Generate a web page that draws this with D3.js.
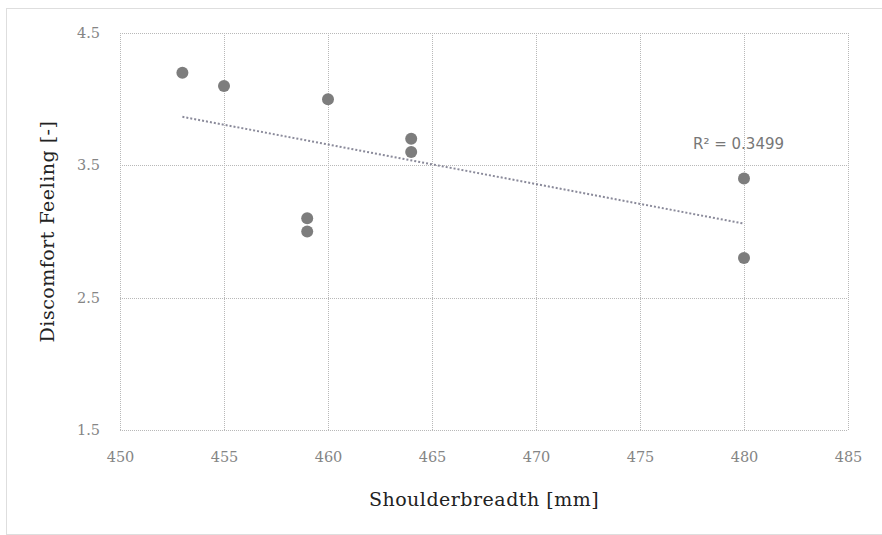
<!DOCTYPE html>
<html>
<head>
<meta charset="utf-8">
<script src="https://cdn.jsdelivr.net/npm/d3@7"></script>
<style>
  body { margin: 0; background: #fff; }
  .grid line { stroke: #b8b8b8; stroke-width: 1; stroke-dasharray: 1,1; }
  .tick text { font-family: "DejaVu Serif", serif; font-size: 14.5px; fill: #858585; }
  .axis-title { font-family: "DejaVu Serif", serif; font-size: 19px; letter-spacing: 0.5px; fill: #222; }
</style>
</head>
<body>
<div id="chart"></div>
<script>
const shoulder = [453, 455, 460, 464, 464, 459, 459, 480, 480];
const discomfort = [4.2, 4.1, 4.0, 3.7, 3.6, 3.1, 3.0, 3.4, 2.8];
const xTicks = [450, 455, 460, 465, 470, 475, 480, 485];
const yTicks = [1.5, 2.5, 3.5, 4.5];
const r2Label = "R² = 0.3499";

const W = 882, H = 535;
const margin = { top: 33, right: 34, bottom: 105, left: 120 };
const width = W - margin.left - margin.right;
const height = H - margin.top - margin.bottom;

const root = d3.select("#chart").append("svg")
  .attr("width", W).attr("height", H);

// outer frame
root.append("rect")
  .attr("x", 6.5).attr("y", 8.5)
  .attr("width", W).attr("height", H - 9)
  .attr("fill", "none")
  .attr("stroke", "#bdbdbd")
  .attr("stroke-dasharray", "1,1");

const svg = root.append("g")
  .attr("transform", `translate(${margin.left},${margin.top})`);

const x = d3.scaleLinear().domain([450, 485]).range([0, width]);
const y = d3.scaleLinear().domain([1.5, 4.5]).range([height, 0]);

// grid
const grid = svg.append("g").attr("class", "grid");
grid.selectAll(".vx").data(xTicks).enter().append("line")
  .attr("x1", d => Math.round(x(d)) + 0.5).attr("x2", d => Math.round(x(d)) + 0.5)
  .attr("y1", 0).attr("y2", height);
grid.selectAll(".hy").data(yTicks).enter().append("line")
  .attr("y1", d => Math.round(y(d)) + 0.5).attr("y2", d => Math.round(y(d)) + 0.5)
  .attr("x1", 0).attr("x2", width);

// axes (labels only)
const xAxis = svg.append("g")
  .attr("transform", `translate(0,${height})`)
  .call(d3.axisBottom(x).tickValues(xTicks).tickSize(0).tickPadding(22).tickFormat(d3.format("d")));
xAxis.select(".domain").remove();

const yAxis = svg.append("g")
  .call(d3.axisLeft(y).tickValues(yTicks).tickSize(0).tickPadding(20).tickFormat(d3.format(".1f")));
yAxis.select(".domain").remove();

// linear trendline (least squares)
const pts = shoulder.map((s, i) => ({ x: s, y: discomfort[i] }));
const mx = d3.mean(pts, d => d.x), my = d3.mean(pts, d => d.y);
const slope = d3.sum(pts, d => (d.x - mx) * (d.y - my)) / d3.sum(pts, d => (d.x - mx) ** 2);
const icpt = my - slope * mx;
const [x0, x1] = d3.extent(shoulder);

svg.append("line")
  .attr("x1", x(x0)).attr("y1", y(icpt + slope * x0))
  .attr("x2", x(x1)).attr("y2", y(icpt + slope * x1))
  .attr("stroke", "#8a8a9a")
  .attr("stroke-width", 2)
  .attr("stroke-dasharray", "2,2");

// points
svg.selectAll("circle")
  .data(pts)
  .enter().append("circle")
  .attr("cx", d => x(d.x))
  .attr("cy", d => y(d.y))
  .attr("r", 6)
  .attr("fill", "#7d7d7d");

svg.append("text")
  .attr("x", x(x1) - 51)
  .attr("y", y(3.5) - 16)
  .attr("font-family", "'DejaVu Sans', sans-serif")
  .attr("font-size", 15)
  .attr("fill", "#777")
  .text(r2Label);

// axis titles
svg.append("text")
  .attr("class", "axis-title")
  .attr("text-anchor", "middle")
  .attr("x", width / 2)
  .attr("y", height + 76)
  .text("Shoulderbreadth [mm]");

svg.append("text")
  .attr("class", "axis-title")
  .attr("text-anchor", "middle")
  .attr("transform", `translate(${-66},${height / 2}) rotate(-90)`)
  .text("Discomfort Feeling [-]");
</script>
</body>
</html>
